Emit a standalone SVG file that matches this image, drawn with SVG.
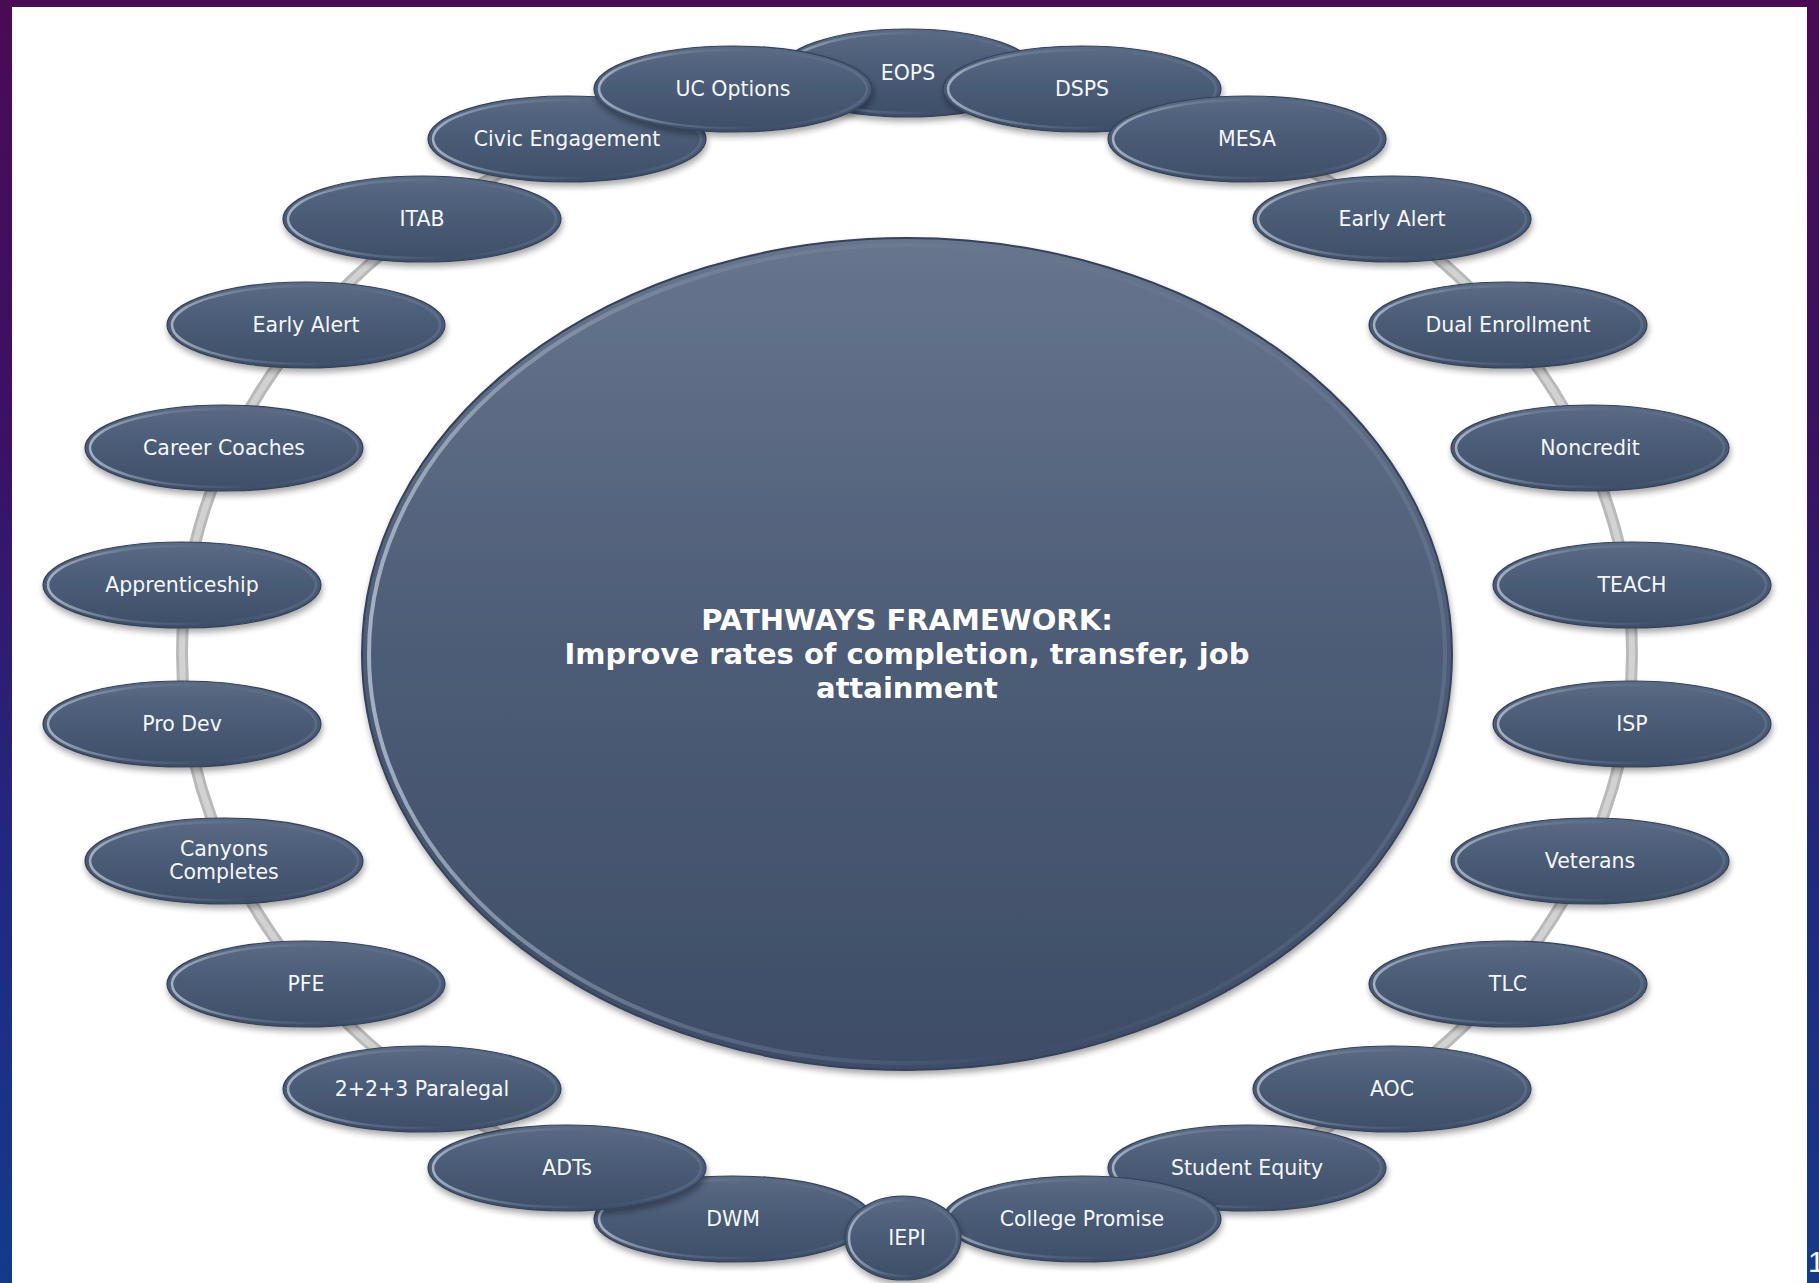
<svg xmlns="http://www.w3.org/2000/svg" xmlns:xlink="http://www.w3.org/1999/xlink" width="1819" height="1283" viewBox="0 0 1819 1283">
  <defs>
    <linearGradient id="bgGrad" x1="0" y1="0" x2="0" y2="1">
      <stop offset="0" stop-color="#4a0b55"/>
      <stop offset="0.35" stop-color="#3a1265"/>
      <stop offset="0.7" stop-color="#1f2a82"/>
      <stop offset="1" stop-color="#143a8c"/>
    </linearGradient>
    <linearGradient id="nodeFill" x1="0" y1="0" x2="0" y2="1">
      <stop offset="0" stop-color="#5b6b84"/>
      <stop offset="0.45" stop-color="#4b5c77"/>
      <stop offset="1" stop-color="#3e4e68"/>
    </linearGradient>
    <linearGradient id="hubFill" x1="0" y1="0" x2="0" y2="1">
      <stop offset="0" stop-color="#67758d"/>
      <stop offset="0.5" stop-color="#4d5c76"/>
      <stop offset="1" stop-color="#3e4d67"/>
    </linearGradient>
    <linearGradient id="rimGrad" x1="0" y1="0" x2="1" y2="0">
      <stop offset="0" stop-color="#a9b5c6" stop-opacity="0.95"/>
      <stop offset="0.3" stop-color="#8d9bb0" stop-opacity="0.35"/>
      <stop offset="0.6" stop-color="#8d9bb0" stop-opacity="0"/>
      <stop offset="1" stop-color="#8d9bb0" stop-opacity="0.25"/>
    </linearGradient>
    <filter id="shadow" x="-10%" y="-20%" width="120%" height="150%">
      <feGaussianBlur in="SourceAlpha" stdDeviation="3"/>
      <feOffset dx="1" dy="4" result="b"/>
      <feComponentTransfer><feFuncA type="linear" slope="0.35"/></feComponentTransfer>
      <feMerge><feMergeNode/><feMergeNode in="SourceGraphic"/></feMerge>
    </filter>
    <style>
      .shape { fill: url(#nodeFill); stroke: #34425a; stroke-width: 1.2; filter: url(#shadow); }
      .rim { fill: none; stroke: url(#rimGrad); stroke-width: 2.5; }
      .lbl { font-family: "DejaVu Sans", "Liberation Sans", sans-serif; font-size: 20.5px; fill: #f4f6f9; text-anchor: middle; }
      .hub-lbl { font-family: "DejaVu Sans", "Liberation Sans", sans-serif; font-size: 29px; font-weight: bold; fill: #ffffff; text-anchor: middle; }
    </style>
  </defs>

  <rect x="0" y="0" width="1819" height="1283" fill="url(#bgGrad)"/>
  <rect x="12" y="7" width="1795" height="1276" fill="#ffffff"/>
  <text x="1808" y="1272" font-family="Liberation Sans, sans-serif" font-size="30" fill="#ffffff">1</text>

  <g id="connectors">
    <ellipse cx="907" cy="654" rx="725" ry="581" fill="none" stroke="#b9b9b9" stroke-width="12"/>
    <ellipse cx="907" cy="654" rx="725" ry="581" fill="none" stroke="#d2d2d2" stroke-width="6"/>
  </g>

  <g id="hub">
    <ellipse cx="907" cy="654" rx="545" ry="416" fill="url(#hubFill)" stroke="#34425a" stroke-width="2" filter="url(#shadow)"/>
    <ellipse cx="907" cy="654" rx="538" ry="409" fill="none" stroke="url(#rimGrad)" stroke-width="4"/>
    <text class="hub-lbl" x="907" y="630">PATHWAYS FRAMEWORK:</text>
    <text class="hub-lbl" x="907" y="664">Improve rates of completion, transfer, job</text>
    <text class="hub-lbl" x="907" y="698">attainment</text>
  </g>

  <g id="node-eops"><ellipse class="shape" cx="908" cy="73" rx="130" ry="44"/><ellipse class="rim" cx="908" cy="73" rx="125" ry="40"/><text class="lbl" x="908" y="80">EOPS</text></g>
  <g id="node-dsps"><ellipse class="shape" cx="1082" cy="89" rx="139" ry="43"/><ellipse class="rim" cx="1082" cy="89" rx="134" ry="39"/><text class="lbl" x="1082" y="96">DSPS</text></g>
  <g id="node-mesa"><ellipse class="shape" cx="1247" cy="139" rx="139" ry="43"/><ellipse class="rim" cx="1247" cy="139" rx="134" ry="39"/><text class="lbl" x="1247" y="146">MESA</text></g>
  <g id="node-early-alert-r"><ellipse class="shape" cx="1392" cy="219" rx="139" ry="43"/><ellipse class="rim" cx="1392" cy="219" rx="134" ry="39"/><text class="lbl" x="1392" y="226">Early Alert</text></g>
  <g id="node-dual-enrollment"><ellipse class="shape" cx="1508" cy="325" rx="139" ry="43"/><ellipse class="rim" cx="1508" cy="325" rx="134" ry="39"/><text class="lbl" x="1508" y="332">Dual Enrollment</text></g>
  <g id="node-noncredit"><ellipse class="shape" cx="1590" cy="448" rx="139" ry="43"/><ellipse class="rim" cx="1590" cy="448" rx="134" ry="39"/><text class="lbl" x="1590" y="455">Noncredit</text></g>
  <g id="node-teach"><ellipse class="shape" cx="1632" cy="585" rx="139" ry="43"/><ellipse class="rim" cx="1632" cy="585" rx="134" ry="39"/><text class="lbl" x="1632" y="592">TEACH</text></g>
  <g id="node-isp"><ellipse class="shape" cx="1632" cy="724" rx="139" ry="43"/><ellipse class="rim" cx="1632" cy="724" rx="134" ry="39"/><text class="lbl" x="1632" y="731">ISP</text></g>
  <g id="node-veterans"><ellipse class="shape" cx="1590" cy="861" rx="139" ry="43"/><ellipse class="rim" cx="1590" cy="861" rx="134" ry="39"/><text class="lbl" x="1590" y="868">Veterans</text></g>
  <g id="node-tlc"><ellipse class="shape" cx="1508" cy="984" rx="139" ry="43"/><ellipse class="rim" cx="1508" cy="984" rx="134" ry="39"/><text class="lbl" x="1508" y="991">TLC</text></g>
  <g id="node-aoc"><ellipse class="shape" cx="1392" cy="1089" rx="139" ry="43"/><ellipse class="rim" cx="1392" cy="1089" rx="134" ry="39"/><text class="lbl" x="1392" y="1096">AOC</text></g>
  <g id="node-student-equity"><ellipse class="shape" cx="1247" cy="1168" rx="139" ry="43"/><ellipse class="rim" cx="1247" cy="1168" rx="134" ry="39"/><text class="lbl" x="1247" y="1175">Student Equity</text></g>
  <g id="node-college-promise"><ellipse class="shape" cx="1082" cy="1219" rx="139" ry="43"/><ellipse class="rim" cx="1082" cy="1219" rx="134" ry="39"/><text class="lbl" x="1082" y="1226">College Promise</text></g>
  <g id="node-dwm"><ellipse class="shape" cx="733" cy="1219" rx="139" ry="43"/><ellipse class="rim" cx="733" cy="1219" rx="134" ry="39"/><text class="lbl" x="733" y="1226">DWM</text></g>
  <g id="node-adts"><ellipse class="shape" cx="567" cy="1168" rx="139" ry="43"/><ellipse class="rim" cx="567" cy="1168" rx="134" ry="39"/><text class="lbl" x="567" y="1175">ADTs</text></g>
  <g id="node-paralegal"><ellipse class="shape" cx="422" cy="1089" rx="139" ry="43"/><ellipse class="rim" cx="422" cy="1089" rx="134" ry="39"/><text class="lbl" x="422" y="1096">2+2+3 Paralegal</text></g>
  <g id="node-pfe"><ellipse class="shape" cx="306" cy="984" rx="139" ry="43"/><ellipse class="rim" cx="306" cy="984" rx="134" ry="39"/><text class="lbl" x="306" y="991">PFE</text></g>
  <g id="node-canyons-completes"><ellipse class="shape" cx="224" cy="861" rx="139" ry="43"/><ellipse class="rim" cx="224" cy="861" rx="134" ry="39"/><text class="lbl" x="224" y="856">Canyons</text><text class="lbl" x="224" y="879">Completes</text></g>
  <g id="node-pro-dev"><ellipse class="shape" cx="182" cy="724" rx="139" ry="43"/><ellipse class="rim" cx="182" cy="724" rx="134" ry="39"/><text class="lbl" x="182" y="731">Pro Dev</text></g>
  <g id="node-apprenticeship"><ellipse class="shape" cx="182" cy="585" rx="139" ry="43"/><ellipse class="rim" cx="182" cy="585" rx="134" ry="39"/><text class="lbl" x="182" y="592">Apprenticeship</text></g>
  <g id="node-career-coaches"><ellipse class="shape" cx="224" cy="448" rx="139" ry="43"/><ellipse class="rim" cx="224" cy="448" rx="134" ry="39"/><text class="lbl" x="224" y="455">Career Coaches</text></g>
  <g id="node-early-alert-l"><ellipse class="shape" cx="306" cy="325" rx="139" ry="43"/><ellipse class="rim" cx="306" cy="325" rx="134" ry="39"/><text class="lbl" x="306" y="332">Early Alert</text></g>
  <g id="node-itab"><ellipse class="shape" cx="422" cy="219" rx="139" ry="43"/><ellipse class="rim" cx="422" cy="219" rx="134" ry="39"/><text class="lbl" x="422" y="226">ITAB</text></g>
  <g id="node-civic-engagement"><ellipse class="shape" cx="567" cy="139" rx="139" ry="43"/><ellipse class="rim" cx="567" cy="139" rx="134" ry="39"/><text class="lbl" x="567" y="146">Civic Engagement</text></g>
  <g id="node-uc-options"><ellipse class="shape" cx="733" cy="89" rx="139" ry="43"/><ellipse class="rim" cx="733" cy="89" rx="134" ry="39"/><text class="lbl" x="733" y="96">UC Options</text></g>
  <g id="node-iepi"><ellipse class="shape" cx="903" cy="1238" rx="58" ry="42"/><ellipse class="rim" cx="903" cy="1238" rx="54" ry="38"/><text class="lbl" x="907" y="1245">IEPI</text></g>
</svg>
